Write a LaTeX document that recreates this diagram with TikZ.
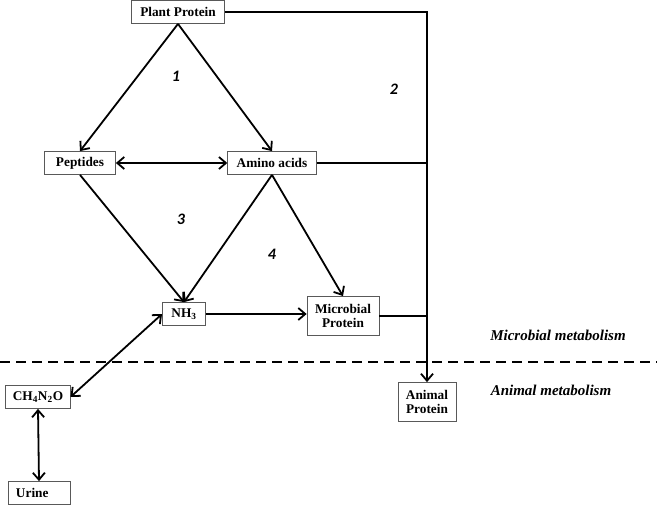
\documentclass[tikz,border=0pt]{standalone}
\usepackage{fontspec}
\setmainfont{Liberation Serif}
\newfontfamily\numfont{Carlito}
\usetikzlibrary{arrows.meta}
\tikzset{
  box/.style={draw=black!65, line width=0.8pt, font=\fontsize{13.3}{14}\selectfont\bfseries,
    inner xsep=9pt, inner ysep=5pt, minimum height=23pt, align=center},
  step num/.style={font=\fontsize{16}{18}\selectfont\numfont\bfseries\itshape},
  zone/.style={font=\fontsize{15}{17}\selectfont\bfseries\itshape},
  flow/.style={line width=1.8pt, -{Straight Barb[length=7pt,width=12pt,line width=1.8pt]}},
  both/.style={line width=1.8pt, {Straight Barb[length=7pt,width=12pt,line width=1.8pt]}-{Straight Barb[length=7pt,width=12pt,line width=1.8pt]}}
}
\begin{document}
\begin{tikzpicture}[x=1pt,y=-1pt]
      \useasboundingbox (0,0) rectangle (657,505);
      \draw
        (178,12) node[box] (pp){Plant Protein}
        (80,163) node[box, minimum width=71pt] (pep){Peptides}
        (272,163) node[box] (aa){Amino acids}
        (184,314) node[box, minimum width=43pt] (nh){NH\textsubscript{3}}
        (343,316) node[box, minimum height=39pt, inner xsep=8pt] (mp){Microbial\\Protein}
        (38,397) node[box, inner xsep=7pt] (urea){CH\textsubscript{4}N\textsubscript{2}O}
        (39,493) node[box, inner xsep=8pt, text width=46pt, align=left] (ur){Urine}
        (427,402) node[box, minimum height=39pt, inner xsep=8pt] (ap){Animal\\Protein};
      \draw
        (176,76) node[step num] (n1){1}
        (394,89) node[step num] (n2){2}
        (181,219) node[step num] (n3){3}
        (272,254) node[step num] (n4){4}
        (558,335) node[zone] (zm){Microbial metabolism}
        (551,390) node[zone] (za){Animal metabolism};
      \coordinate (dl) at (0,362);
      \coordinate (dr) at (657,362);
      \draw[line width=1.8pt, dash pattern=on 10pt off 6pt] (dl) -- (dr);
      \begin{scope}[flow]
        \draw (pp.south) to (pep.north);
        \draw (pp.south) to (aa.north);
        \draw (pep.south) to (nh.north);
        \draw (aa.south) to (nh.north);
        \draw (aa.south) to (mp.north);
        \draw (nh.east) to (nh.east -| mp.west);
        \draw (pp.east) -| (ap.north);
      \end{scope}
      \begin{scope}[line width=1.8pt]
        \draw (aa.east) -- (aa.east -| ap.north);
        \draw (mp.east) -- (mp.east -| ap.north);
      \end{scope}
      \begin{scope}[both]
        \draw (pep.east) to (aa.west);
        \draw (nh.west) to (urea.east);
        \draw (urea.south) to (ur.north);
      \end{scope}
    \end{tikzpicture}
\end{document}
